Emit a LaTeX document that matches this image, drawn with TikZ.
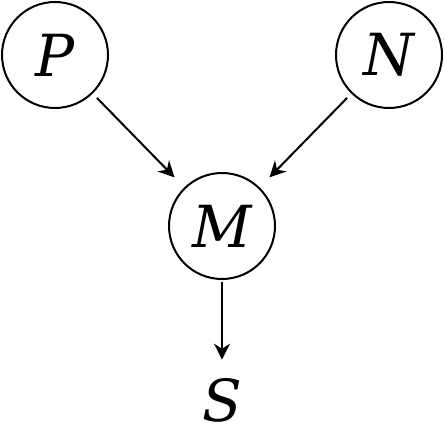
\documentclass[tikz,border=0pt]{standalone}
\usepackage{fontspec}
\setmainfont{DejaVu Serif}
\usetikzlibrary{arrows.meta,positioning}

\tikzset{var/.style={circle,draw,line width=1pt,minimum size=53pt,inner sep=0pt},
         edge/.style={-{Stealth[length=8pt,width=8pt]},line width=1pt}}

\begin{document}
\begin{tikzpicture}[x=0.5pt,y=-0.5pt,font=\fontsize{29}{32}\selectfont\itshape]
\useasboundingbox (0,0) rectangle (445,428);
\node[var] (P) at ( 55, 55) {P};
\node[var] (N) at (389, 55) {N};
\node[var] (M) at (222,226) {M};
\node[inner sep=0pt] (S) at (222,400) {S};

\draw[edge,shorten <=3pt,shorten >=7pt] (P)--(M);
\draw[edge,shorten <=3pt,shorten >=7pt] (N)--(M);
\draw[edge,shorten <=1pt,shorten >=9pt] (M)--(S);
\end{tikzpicture}
\end{document}
